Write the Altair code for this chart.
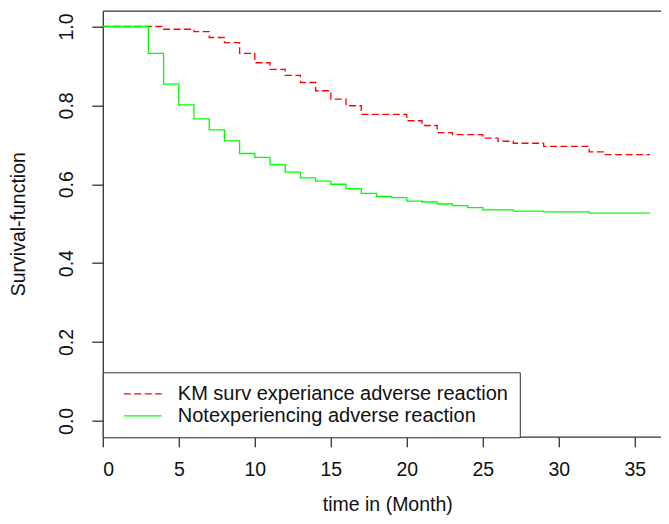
import altair as alt
import pandas as pd

# Kaplan-Meier step curves
red_label = "KM surv experiance adverse reaction"
green_label = "Notexperiencing adverse reaction"

red_t = [0, 4, 6, 7, 8, 9, 10, 11, 12, 13, 14, 15, 16, 17, 20, 21, 22, 23, 25, 26, 27, 29, 32, 33, 36]
red_s = [1.0, 0.993, 0.987, 0.972, 0.959, 0.932, 0.908, 0.891, 0.876, 0.858, 0.837, 0.816, 0.799,
         0.777, 0.761, 0.749, 0.731, 0.726, 0.717, 0.709, 0.704, 0.696, 0.682, 0.675, 0.675]

green_t = [0, 3, 4, 5, 6, 7, 8, 9, 10, 11, 12, 13, 14, 15, 16, 17, 18, 19, 20, 21, 22, 23, 24, 25,
           27, 29, 32, 36]
green_s = [1.0, 0.932, 0.854, 0.801, 0.766, 0.738, 0.710, 0.678, 0.668, 0.650, 0.631, 0.616, 0.608,
           0.600, 0.589, 0.577, 0.569, 0.566, 0.557, 0.555, 0.550, 0.546, 0.541, 0.535, 0.532, 0.530,
           0.527, 0.527]

x_ticks = [0, 5, 10, 15, 20, 25, 30, 35]
y_ticks = [0.0, 0.2, 0.4, 0.6, 0.8, 1.0]

rows = []
for t, s in zip(red_t, red_s):
    rows.append({"t": t, "s": s, "g": red_label})
for t, s in zip(green_t, green_s):
    rows.append({"t": t, "s": s, "g": green_label})
df = pd.DataFrame(rows)

FONT = "Liberation Sans"
AX = "#333333"
FS = 19.5

xscale = alt.Scale(domain=[0, 36.72], nice=False, zero=False)
yscale = alt.Scale(domain=[-0.04, 1.04], nice=False, zero=False)

color = alt.Color("g:N", title=None,
                  scale=alt.Scale(domain=[red_label, green_label], range=["#FF0000", "#00FF00"]))
dash = alt.StrokeDash("g:N", title=None,
                      scale=alt.Scale(domain=[red_label, green_label], range=[[7, 3.5], [1, 0]]))

lines = alt.Chart(df).mark_line(interpolate="step-after", strokeWidth=1.3).encode(
    x=alt.X("t:Q", scale=xscale,
            axis=alt.Axis(values=x_ticks, title="time in (Month)", grid=False,
                          tickSize=10, labelPadding=14, titleX=284.5, titleY=73.5,
                          titleBaseline="alphabetic", format="d")),
    y=alt.Y("s:Q", scale=yscale,
            axis=alt.Axis(values=y_ticks, title="Survival-function", grid=False, format=".1f",
                          tickSize=11, labelAngle=-90, labelAlign="center",
                          labelBaseline="alphabetic", labelPadding=19,
                          titleX=-78, titleBaseline="alphabetic", titleAngle=-90)),
    color=color,
    strokeDash=dash,
    detail="g:N",
)

top_frame = alt.Chart(df).mark_point(opacity=0).encode(
    x=alt.X("t:Q", scale=xscale,
            axis=alt.Axis(orient="top", labels=False, ticks=False, domain=True, grid=False, title="")),
    y=alt.Y("s:Q", scale=yscale),
)

chart = alt.layer(lines, top_frame).resolve_axis(x="independent").properties(
    width=558.2,
    height=426,
    padding={"left": 94.8, "top": 2.7, "right": 0, "bottom": 79.3},
    autosize=alt.AutoSizeParams(type="none"),
).configure_view(stroke=None).configure_axis(
    domainColor=AX, domainWidth=1.3, tickColor=AX, tickWidth=1.3,
    labelFont=FONT, labelFontSize=FS, labelColor="#111111",
    titleFont=FONT, titleFontSize=FS, titleColor="#111111", titleFontWeight="normal",
).configure_legend(
    orient="none", legendX=0, legendY=361.6,
    strokeColor=AX, fillColor="white", padding=11.5,
    symbolType="M-5,0H5", symbolSize=57.8, symbolStrokeWidth=1.3, symbolOffset=18.5,
    labelOffset=25, labelFont=FONT, labelFontSize=20, labelColor="#111111",
    labelLimit=600, rowPadding=2,
)

chart.save("out.html", embed_options={"renderer": "svg", "actions": False})
